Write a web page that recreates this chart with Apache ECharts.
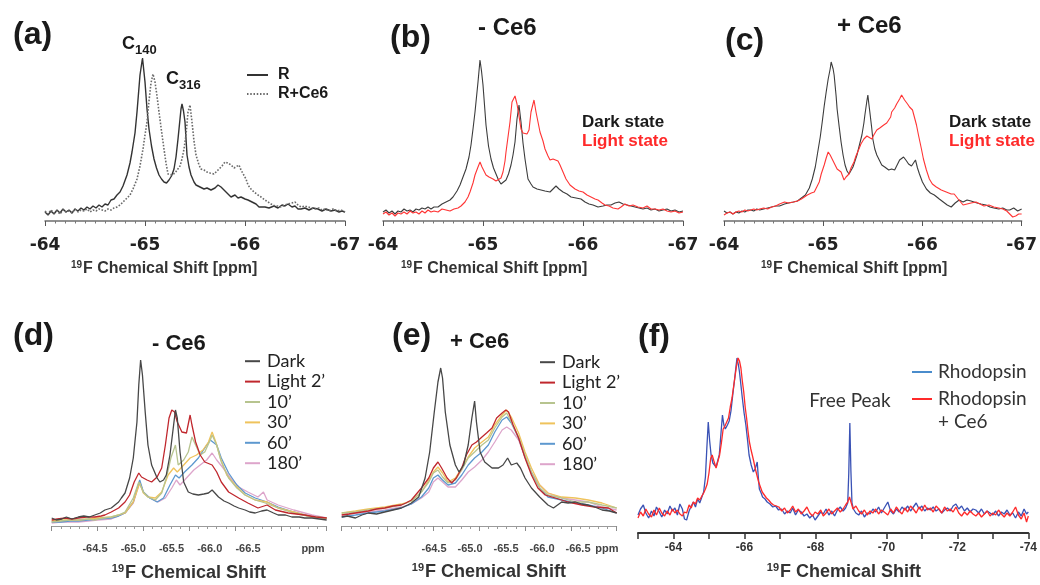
<!DOCTYPE html>
<html>
<head>
<meta charset="utf-8">
<script src="https://cdn.jsdelivr.net/npm/echarts@6/dist/echarts.min.js"></script>
<style>
html,body{margin:0;padding:0;background:#fff}
#chart{width:1040px;height:585px}
</style>
</head>
<body>
<div id="chart"></div>
<script>
// 19F NMR spectra of rhodopsin, [ppm, intensity] pairs (intensity in arbitrary units)

// (a) R vs R+Ce6
const aR = [[-64.00,9],[-64.03,6],[-64.06,10],[-64.09,7],[-64.12,11],[-64.15,8],[-64.18,12],[-64.21,9],[-64.24,11],[-64.27,8],[-64.30,12],[-64.33,10],[-64.36,13],[-64.39,11],[-64.42,14],[-64.45,12],[-64.48,15],[-64.51,13],[-64.54,16],[-64.57,14],[-64.60,17],[-64.63,16],[-64.66,21],[-64.69,22],[-64.72,26],[-64.75,29],[-64.78,35],[-64.82,46],[-64.85,58],[-64.87,69],[-64.90,88],[-64.92,109],[-64.95,146],[-64.975,163],[-65.00,139],[-65.02,112],[-65.04,92],[-65.065,75],[-65.09,62],[-65.115,53],[-65.14,46],[-65.165,42],[-65.19,39],[-65.215,38],[-65.24,41],[-65.265,45],[-65.29,52],[-65.31,64],[-65.33,82],[-65.35,102],[-65.36,112],[-65.37,117],[-65.385,110],[-65.40,99],[-65.42,66],[-65.44,54],[-65.46,46],[-65.49,39],[-65.51,36],[-65.55,34],[-65.59,32],[-65.62,33],[-65.66,31],[-65.70,33],[-65.73,36],[-65.76,34],[-65.78,32],[-65.82,28],[-65.86,24],[-65.90,26],[-65.93,23],[-65.96,24],[-66.00,22],[-66.03,21],[-66.07,19],[-66.11,17],[-66.14,14],[-66.16,12],[-66.20,14],[-66.24,13],[-66.29,15],[-66.33,13],[-66.37,16],[-66.40,15],[-66.43,17],[-66.47,14],[-66.50,15],[-66.53,12],[-66.56,12],[-66.60,13],[-66.64,11],[-66.68,13],[-66.73,12],[-66.77,10],[-66.81,12],[-66.86,10],[-66.90,11],[-66.94,9],[-66.97,10],[-67.00,9]];
const aRCe6 = [[-64.00,10],[-64.03,7],[-64.06,11],[-64.09,8],[-64.12,10],[-64.15,7],[-64.18,11],[-64.21,9],[-64.24,10],[-64.27,8],[-64.30,12],[-64.33,9],[-64.36,11],[-64.39,10],[-64.42,12],[-64.45,9],[-64.48,11],[-64.51,10],[-64.54,12],[-64.57,11],[-64.60,10],[-64.63,12],[-64.66,11],[-64.69,13],[-64.72,14],[-64.75,16],[-64.78,19],[-64.81,22],[-64.85,26],[-64.88,32],[-64.92,42],[-64.95,55],[-64.98,72],[-65.00,86],[-65.02,99],[-65.04,120],[-65.06,138],[-65.08,147],[-65.10,139],[-65.12,125],[-65.14,109],[-65.165,90],[-65.19,72],[-65.21,58],[-65.23,47],[-65.25,45],[-65.27,46],[-65.30,48],[-65.32,49],[-65.35,55],[-65.37,62],[-65.39,72],[-65.41,86],[-65.43,109],[-65.45,116],[-65.47,99],[-65.49,80],[-65.51,66],[-65.54,56],[-65.56,52],[-65.59,51],[-65.62,49],[-65.65,48],[-65.69,47],[-65.72,50],[-65.74,52],[-65.77,55],[-65.80,59],[-65.83,58],[-65.86,56],[-65.89,53],[-65.91,52],[-65.94,56],[-65.96,51],[-65.98,49],[-66.01,42],[-66.03,36],[-66.06,32],[-66.09,29],[-66.13,26],[-66.16,24],[-66.20,21],[-66.23,19],[-66.26,17],[-66.30,15],[-66.33,15],[-66.36,14],[-66.40,16],[-66.43,17],[-66.47,18],[-66.50,19],[-66.53,16],[-66.56,14],[-66.60,15],[-66.63,14],[-66.67,13],[-66.70,12],[-66.74,13],[-66.77,11],[-66.80,12],[-66.84,10],[-66.88,12],[-66.92,10],[-66.96,11],[-67.00,9]];

// (b) without Ce6: dark vs light state
const bDark = [[-64.00,9],[-64.03,11],[-64.06,8],[-64.09,10],[-64.12,7],[-64.15,10],[-64.18,9],[-64.21,12],[-64.24,10],[-64.27,11],[-64.30,9],[-64.33,12],[-64.36,11],[-64.39,13],[-64.42,12],[-64.45,14],[-64.48,12],[-64.51,14],[-64.55,14],[-64.59,17],[-64.63,19],[-64.67,21],[-64.70,24],[-64.74,30],[-64.77,36],[-64.80,44],[-64.83,52],[-64.86,64],[-64.88,76],[-64.90,92],[-64.92,109],[-64.95,139],[-64.97,161],[-64.985,150],[-65.00,136],[-65.03,96],[-65.055,75],[-65.08,62],[-65.105,53],[-65.13,47],[-65.155,41],[-65.18,37],[-65.205,39],[-65.23,41],[-65.255,47],[-65.28,56],[-65.30,66],[-65.32,79],[-65.34,102],[-65.36,116],[-65.38,99],[-65.40,78],[-65.42,62],[-65.45,42],[-65.48,37],[-65.50,34],[-65.54,32],[-65.58,31],[-65.62,30],[-65.67,29],[-65.70,32],[-65.73,35],[-65.76,32],[-65.80,29],[-65.84,27],[-65.88,24],[-65.93,23],[-65.98,22],[-66.02,19],[-66.06,17],[-66.10,16],[-66.15,14],[-66.20,15],[-66.24,16],[-66.28,16],[-66.32,18],[-66.36,19],[-66.40,17],[-66.44,16],[-66.48,15],[-66.52,14],[-66.56,13],[-66.60,12],[-66.64,13],[-66.68,11],[-66.72,12],[-66.76,10],[-66.80,11],[-66.84,12],[-66.88,10],[-66.92,11],[-66.96,9],[-67.00,10]];
const bLight = [[-64.00,7],[-64.03,9],[-64.06,6],[-64.09,8],[-64.12,5],[-64.15,8],[-64.18,7],[-64.21,9],[-64.24,7],[-64.27,10],[-64.30,8],[-64.33,9],[-64.36,7],[-64.39,10],[-64.42,8],[-64.45,11],[-64.48,9],[-64.51,10],[-64.55,9],[-64.59,12],[-64.63,11],[-64.67,10],[-64.71,12],[-64.75,13],[-64.78,15],[-64.82,19],[-64.85,24],[-64.87,29],[-64.90,38],[-64.92,46],[-64.95,54],[-64.97,59],[-64.99,54],[-65.01,50],[-65.03,46],[-65.06,44],[-65.10,42],[-65.13,40],[-65.15,39],[-65.18,43],[-65.20,49],[-65.22,60],[-65.23,69],[-65.25,84],[-65.27,99],[-65.29,119],[-65.32,125],[-65.34,117],[-65.36,105],[-65.38,92],[-65.40,88],[-65.42,86],[-65.44,87],[-65.46,91],[-65.48,109],[-65.51,121],[-65.53,109],[-65.55,99],[-65.57,89],[-65.60,80],[-65.62,72],[-65.65,65],[-65.67,61],[-65.70,62],[-65.72,64],[-65.75,60],[-65.77,56],[-65.80,49],[-65.83,42],[-65.87,36],[-65.92,32],[-65.96,30],[-66.00,29],[-66.04,26],[-66.08,24],[-66.12,22],[-66.15,21],[-66.19,18],[-66.22,16],[-66.26,15],[-66.30,13],[-66.35,12],[-66.38,14],[-66.42,17],[-66.46,15],[-66.50,16],[-66.55,14],[-66.60,13],[-66.64,15],[-66.68,12],[-66.72,12],[-66.76,11],[-66.80,12],[-66.84,10],[-66.88,9],[-66.92,10],[-66.96,8],[-67.00,9]];

// (c) with Ce6: dark vs light state
const cDark = [[-64.00,10],[-64.03,8],[-64.06,9],[-64.09,7],[-64.12,9],[-64.15,8],[-64.18,10],[-64.21,9],[-64.24,11],[-64.27,11],[-64.30,10],[-64.33,12],[-64.36,11],[-64.40,12],[-64.44,13],[-64.48,14],[-64.52,15],[-64.56,15],[-64.61,17],[-64.65,18],[-64.70,19],[-64.74,20],[-64.78,23],[-64.82,26],[-64.86,33],[-64.89,42],[-64.92,54],[-64.94,66],[-64.97,84],[-64.99,99],[-65.01,115],[-65.03,129],[-65.05,142],[-65.07,152],[-65.08,159],[-65.10,152],[-65.11,146],[-65.13,125],[-65.14,112],[-65.16,95],[-65.18,79],[-65.20,66],[-65.22,56],[-65.24,50],[-65.26,47],[-65.28,49],[-65.30,54],[-65.32,60],[-65.34,66],[-65.36,74],[-65.39,86],[-65.41,98],[-65.42,106],[-65.44,120],[-65.45,126],[-65.46,117],[-65.47,109],[-65.49,92],[-65.50,82],[-65.52,72],[-65.54,66],[-65.57,60],[-65.59,56],[-65.62,54],[-65.66,51],[-65.69,52],[-65.72,51],[-65.75,57],[-65.77,61],[-65.81,64],[-65.84,60],[-65.86,57],[-65.89,55],[-65.91,54],[-65.93,61],[-65.95,53],[-65.97,47],[-66.00,39],[-66.04,32],[-66.08,28],[-66.12,26],[-66.17,22],[-66.21,19],[-66.25,16],[-66.29,14],[-66.33,18],[-66.37,21],[-66.41,19],[-66.45,21],[-66.49,20],[-66.51,21],[-66.55,18],[-66.59,17],[-66.64,16],[-66.68,14],[-66.72,13],[-66.77,12],[-66.81,13],[-66.85,11],[-66.88,11],[-66.92,13],[-66.96,10],[-67.00,12]];
const cLight = [[-64.00,6],[-64.03,8],[-64.06,9],[-64.09,7],[-64.12,9],[-64.15,10],[-64.18,9],[-64.21,11],[-64.24,10],[-64.27,11],[-64.30,12],[-64.33,11],[-64.36,12],[-64.40,13],[-64.44,12],[-64.48,14],[-64.52,15],[-64.56,17],[-64.61,19],[-64.65,18],[-64.70,19],[-64.74,20],[-64.78,22],[-64.84,26],[-64.88,28],[-64.91,29],[-64.94,35],[-64.96,39],[-64.98,47],[-65.01,56],[-65.03,63],[-65.05,69],[-65.07,66],[-65.09,62],[-65.12,56],[-65.14,52],[-65.16,50],[-65.18,49],[-65.21,41],[-65.23,44],[-65.26,47],[-65.28,53],[-65.31,59],[-65.33,65],[-65.36,72],[-65.38,77],[-65.41,82],[-65.44,85],[-65.46,87],[-65.49,82],[-65.51,86],[-65.54,91],[-65.57,93],[-65.61,96],[-65.64,98],[-65.66,99],[-65.68,104],[-65.69,109],[-65.72,113],[-65.74,117],[-65.77,122],[-65.79,126],[-65.82,121],[-65.85,117],[-65.87,114],[-65.90,111],[-65.92,109],[-65.94,96],[-65.96,86],[-65.99,72],[-66.01,62],[-66.04,51],[-66.07,42],[-66.10,37],[-66.14,34],[-66.19,31],[-66.24,29],[-66.29,27],[-66.32,27],[-66.36,22],[-66.41,16],[-66.45,17],[-66.49,18],[-66.54,19],[-66.58,17],[-66.62,15],[-66.67,16],[-66.72,14],[-66.77,13],[-66.81,12],[-66.85,10],[-66.88,7],[-66.91,4],[-66.94,5],[-66.97,7],[-67.00,7]];

// (d) without Ce6: time course after illumination
const dDark = [[-64.00,8],[-64.05,6],[-64.11,7],[-64.16,9],[-64.22,7],[-64.29,9],[-64.35,10],[-64.41,9],[-64.47,11],[-64.53,13],[-64.58,16],[-64.65,18],[-64.69,21],[-64.73,24],[-64.76,28],[-64.80,33],[-64.85,48],[-64.89,68],[-64.93,104],[-64.95,141],[-64.97,166],[-64.99,151],[-65.02,114],[-65.05,81],[-65.09,61],[-65.15,48],[-65.18,44],[-65.22,46],[-65.25,51],[-65.29,71],[-65.33,101],[-65.35,116],[-65.37,108],[-65.40,74],[-65.44,44],[-65.49,34],[-65.54,32],[-65.60,31],[-65.66,32],[-65.71,33],[-65.75,36],[-65.78,33],[-65.82,29],[-65.88,25],[-65.93,23],[-65.99,20],[-66.04,18],[-66.11,16],[-66.16,14],[-66.22,13],[-66.29,15],[-66.35,16],[-66.42,13],[-66.47,11],[-66.55,11],[-66.62,9],[-66.70,9],[-66.76,8],[-66.84,8],[-66.92,7],[-67.00,6]];
const dLight2 = [[-64.00,6],[-64.06,7],[-64.15,8],[-64.22,7],[-64.29,8],[-64.38,9],[-64.47,9],[-64.54,10],[-64.58,11],[-64.65,14],[-64.73,18],[-64.80,24],[-64.85,31],[-64.90,44],[-64.95,53],[-64.98,49],[-65.04,46],[-65.09,44],[-65.15,49],[-65.20,58],[-65.24,81],[-65.28,108],[-65.31,116],[-65.34,114],[-65.37,104],[-65.42,94],[-65.47,93],[-65.51,111],[-65.53,101],[-65.57,84],[-65.62,71],[-65.67,64],[-65.75,61],[-65.80,54],[-65.85,44],[-65.93,34],[-66.04,28],[-66.14,23],[-66.25,18],[-66.35,21],[-66.44,16],[-66.58,13],[-66.76,11],[-66.88,9],[-67.00,8]];
const d10 = [[-64.00,4],[-64.10,5],[-64.20,6],[-64.29,6],[-64.40,7],[-64.47,6],[-64.56,8],[-64.65,9],[-64.73,11],[-64.80,14],[-64.89,28],[-64.95,44],[-65.00,34],[-65.05,29],[-65.13,26],[-65.20,33],[-65.25,48],[-65.30,68],[-65.35,81],[-65.38,61],[-65.44,66],[-65.49,74],[-65.53,89],[-65.57,81],[-65.62,71],[-65.67,74],[-65.73,86],[-65.75,91],[-65.80,81],[-65.85,64],[-65.93,48],[-66.02,38],[-66.11,31],[-66.22,26],[-66.33,23],[-66.47,18],[-66.64,13],[-66.84,9],[-67.00,8]];
const d30 = [[-64.00,5],[-64.10,6],[-64.20,6],[-64.29,6],[-64.40,7],[-64.50,8],[-64.65,9],[-64.73,11],[-64.80,13],[-64.89,24],[-64.96,43],[-65.00,33],[-65.05,29],[-65.13,28],[-65.20,34],[-65.27,51],[-65.33,58],[-65.37,54],[-65.44,61],[-65.51,68],[-65.58,71],[-65.65,76],[-65.71,84],[-65.75,94],[-65.79,84],[-65.84,68],[-65.91,51],[-66.00,41],[-66.11,31],[-66.22,26],[-66.35,24],[-66.47,18],[-66.64,14],[-66.84,9],[-67.00,8]];
const d60 = [[-64.00,4],[-64.10,4],[-64.20,5],[-64.29,5],[-64.40,6],[-64.50,7],[-64.65,8],[-64.73,10],[-64.80,13],[-64.89,24],[-64.96,46],[-65.00,34],[-65.07,28],[-65.15,24],[-65.22,28],[-65.29,41],[-65.35,51],[-65.39,48],[-65.45,54],[-65.53,61],[-65.60,68],[-65.67,78],[-65.73,86],[-65.75,88],[-65.80,81],[-65.85,68],[-65.93,53],[-66.02,41],[-66.11,33],[-66.22,28],[-66.35,24],[-66.47,19],[-66.64,14],[-66.84,9],[-67.00,8]];
const d180 = [[-64.00,3],[-64.10,4],[-64.20,4],[-64.29,4],[-64.40,5],[-64.50,6],[-64.65,7],[-64.73,10],[-64.80,13],[-64.89,23],[-64.96,44],[-65.00,34],[-65.07,28],[-65.16,24],[-65.24,28],[-65.31,38],[-65.36,46],[-65.40,41],[-65.47,48],[-65.55,56],[-65.62,61],[-65.69,66],[-65.75,73],[-65.80,66],[-65.87,58],[-65.95,48],[-66.04,39],[-66.14,34],[-66.25,29],[-66.31,34],[-66.35,26],[-66.47,21],[-66.64,16],[-66.84,11],[-67.00,8]];

// (e) with Ce6: time course after illumination
const eDark = [[-64.00,9],[-64.06,10],[-64.15,8],[-64.22,11],[-64.29,13],[-64.38,12],[-64.47,14],[-64.56,16],[-64.65,18],[-64.72,21],[-64.76,23],[-64.84,29],[-64.91,48],[-64.96,74],[-65.01,114],[-65.05,144],[-65.08,158],[-65.10,148],[-65.13,114],[-65.18,81],[-65.24,61],[-65.28,54],[-65.33,61],[-65.38,81],[-65.42,108],[-65.45,125],[-65.47,104],[-65.51,74],[-65.56,64],[-65.64,58],[-65.71,58],[-65.76,61],[-65.81,68],[-65.85,61],[-65.91,63],[-65.95,58],[-66.00,48],[-66.07,38],[-66.16,29],[-66.25,21],[-66.31,18],[-66.40,24],[-66.47,23],[-66.55,24],[-66.62,22],[-66.69,21],[-66.76,19],[-66.84,16],[-66.92,15],[-67.00,13]];
const eLight2 = [[-64.00,11],[-64.08,12],[-64.15,13],[-64.22,14],[-64.29,15],[-64.38,17],[-64.47,18],[-64.56,20],[-64.65,21],[-64.70,23],[-64.76,26],[-64.87,38],[-64.95,48],[-65.00,58],[-65.05,64],[-65.09,58],[-65.15,48],[-65.20,43],[-65.25,48],[-65.31,58],[-65.36,71],[-65.42,81],[-65.47,84],[-65.53,89],[-65.58,93],[-65.64,98],[-65.69,108],[-65.75,113],[-65.79,116],[-65.82,114],[-65.87,101],[-65.93,88],[-66.00,68],[-66.07,51],[-66.14,38],[-66.22,31],[-66.33,28],[-66.47,24],[-66.62,21],[-66.76,19],[-66.91,18],[-67.00,13]];
const e10 = [[-64.00,13],[-64.15,14],[-64.29,16],[-64.47,18],[-64.65,21],[-64.76,25],[-64.87,34],[-64.95,44],[-65.00,53],[-65.05,56],[-65.10,49],[-65.16,43],[-65.24,46],[-65.31,56],[-65.38,68],[-65.45,74],[-65.53,81],[-65.60,86],[-65.67,98],[-65.75,109],[-65.80,113],[-65.85,104],[-65.93,89],[-66.00,71],[-66.07,54],[-66.16,38],[-66.25,31],[-66.40,28],[-66.55,24],[-66.69,24],[-66.84,21],[-67.00,18]];
const e30 = [[-64.00,13],[-64.15,15],[-64.29,17],[-64.47,19],[-64.65,22],[-64.76,25],[-64.87,34],[-64.95,46],[-65.00,54],[-65.05,59],[-65.10,53],[-65.16,44],[-65.24,48],[-65.31,58],[-65.38,69],[-65.45,78],[-65.53,84],[-65.60,89],[-65.67,101],[-65.75,111],[-65.80,116],[-65.85,109],[-65.93,93],[-66.00,74],[-66.07,58],[-66.16,41],[-66.25,33],[-66.40,29],[-66.55,28],[-66.69,26],[-66.84,23],[-67.00,18]];
const e60 = [[-64.00,9],[-64.15,11],[-64.29,13],[-64.47,15],[-64.65,18],[-64.76,22],[-64.87,29],[-64.95,38],[-65.00,48],[-65.05,51],[-65.10,46],[-65.16,41],[-65.24,43],[-65.31,51],[-65.38,61],[-65.45,68],[-65.53,74],[-65.60,81],[-65.67,94],[-65.75,106],[-65.80,109],[-65.85,103],[-65.93,88],[-66.00,69],[-66.07,53],[-66.16,38],[-66.25,29],[-66.40,26],[-66.55,23],[-66.69,21],[-66.84,18],[-67.00,13]];
const e180 = [[-64.00,11],[-64.15,13],[-64.29,14],[-64.47,16],[-64.65,19],[-64.76,22],[-64.87,28],[-64.95,34],[-65.00,44],[-65.05,48],[-65.10,44],[-65.16,39],[-65.24,39],[-65.31,46],[-65.38,54],[-65.45,59],[-65.53,66],[-65.60,74],[-65.67,84],[-65.75,96],[-65.80,99],[-65.85,96],[-65.93,86],[-66.00,69],[-66.07,54],[-66.16,41],[-66.25,33],[-66.40,28],[-66.55,26],[-66.69,24],[-66.84,19],[-67.00,16]];

// (f) full window, rhodopsin with / without Ce6
const fRho = [[-63.00,18],[-63.07,24],[-63.15,28],[-63.22,20],[-63.30,15],[-63.38,22],[-63.45,17],[-63.52,26],[-63.60,21],[-63.67,16],[-63.75,23],[-63.82,19],[-63.90,27],[-63.97,22],[-64.04,25],[-64.11,18],[-64.18,29],[-64.25,24],[-64.31,14],[-64.37,13],[-64.44,22],[-64.50,27],[-64.56,31],[-64.62,26],[-64.68,34],[-64.74,30],[-64.80,36],[-64.85,41],[-64.90,56],[-64.94,85],[-64.98,111],[-65.02,92],[-65.06,78],[-65.11,70],[-65.15,68],[-65.20,66],[-65.24,65],[-65.29,78],[-65.33,96],[-65.38,118],[-65.42,108],[-65.46,104],[-65.52,108],[-65.57,112],[-65.62,122],[-65.67,138],[-65.72,153],[-65.76,166],[-65.79,175],[-65.83,168],[-65.86,161],[-65.90,148],[-65.94,135],[-65.99,120],[-66.04,108],[-66.09,92],[-66.13,78],[-66.19,68],[-66.25,61],[-66.30,64],[-66.36,71],[-66.39,56],[-66.42,44],[-66.47,40],[-66.51,36],[-66.58,34],[-66.64,31],[-66.72,29],[-66.80,26],[-66.88,27],[-66.96,23],[-67.05,24],[-67.13,19],[-67.21,22],[-67.29,20],[-67.36,25],[-67.44,18],[-67.52,23],[-67.60,21],[-67.68,17],[-67.76,19],[-67.84,15],[-67.92,18],[-67.99,13],[-68.07,17],[-68.15,21],[-68.22,19],[-68.30,24],[-68.38,18],[-68.46,22],[-68.54,17],[-68.62,23],[-68.70,26],[-68.78,22],[-68.85,25],[-68.91,30],[-68.94,60],[-68.97,110],[-69.00,62],[-69.03,30],[-69.07,24],[-69.14,20],[-69.22,18],[-69.30,22],[-69.38,16],[-69.46,20],[-69.54,19],[-69.62,24],[-69.70,21],[-69.78,26],[-69.86,20],[-69.94,25],[-70.04,31],[-70.12,22],[-70.20,19],[-70.28,24],[-70.36,21],[-70.44,26],[-70.52,23],[-70.60,27],[-70.68,22],[-70.76,26],[-70.84,30],[-70.92,24],[-71.00,27],[-71.08,22],[-71.16,25],[-71.24,23],[-71.32,26],[-71.40,22],[-71.48,24],[-71.56,20],[-71.64,23],[-71.72,25],[-71.80,22],[-71.88,27],[-71.96,29],[-72.04,24],[-72.12,27],[-72.20,22],[-72.28,25],[-72.36,21],[-72.44,24],[-72.52,23],[-72.60,20],[-72.68,24],[-72.76,19],[-72.84,22],[-72.92,20],[-73.00,18],[-73.08,22],[-73.16,17],[-73.24,21],[-73.32,19],[-73.40,23],[-73.48,18],[-73.56,20],[-73.64,15],[-73.72,21],[-73.80,17],[-73.88,24],[-73.95,19],[-74.00,21]];
const fRhoCe6 = [[-63.00,15],[-63.07,21],[-63.15,17],[-63.22,24],[-63.30,19],[-63.38,16],[-63.45,23],[-63.52,18],[-63.60,25],[-63.67,20],[-63.75,17],[-63.82,22],[-63.90,18],[-63.97,24],[-64.04,20],[-64.11,23],[-64.18,19],[-64.25,17],[-64.31,21],[-64.37,20],[-64.44,28],[-64.50,25],[-64.56,31],[-64.62,29],[-64.68,35],[-64.74,33],[-64.80,37],[-64.85,40],[-64.90,44],[-64.95,49],[-65.00,60],[-65.05,75],[-65.09,78],[-65.14,72],[-65.20,65],[-65.25,67],[-65.30,78],[-65.35,90],[-65.40,104],[-65.45,107],[-65.50,109],[-65.55,115],[-65.60,126],[-65.65,135],[-65.70,148],[-65.74,158],[-65.78,168],[-65.82,175],[-65.86,172],[-65.90,165],[-65.94,152],[-65.98,141],[-66.02,126],[-66.06,115],[-66.10,102],[-66.14,91],[-66.18,84],[-66.22,78],[-66.26,72],[-66.30,65],[-66.35,58],[-66.40,51],[-66.45,46],[-66.50,41],[-66.56,38],[-66.62,35],[-66.68,33],[-66.75,30],[-66.82,28],[-66.90,27],[-66.97,26],[-67.05,22],[-67.13,25],[-67.21,20],[-67.29,23],[-67.36,27],[-67.44,21],[-67.52,24],[-67.60,19],[-67.68,22],[-67.76,26],[-67.84,20],[-67.92,17],[-67.99,21],[-68.07,19],[-68.15,23],[-68.22,17],[-68.30,20],[-68.38,24],[-68.46,19],[-68.54,22],[-68.62,25],[-68.70,21],[-68.78,24],[-68.85,28],[-68.91,31],[-68.96,36],[-69.01,30],[-69.06,24],[-69.14,27],[-69.22,22],[-69.30,19],[-69.38,23],[-69.46,18],[-69.54,22],[-69.62,20],[-69.70,24],[-69.78,19],[-69.86,23],[-69.94,21],[-70.04,18],[-70.12,24],[-70.20,20],[-70.28,26],[-70.36,22],[-70.44,19],[-70.52,25],[-70.60,21],[-70.68,27],[-70.76,24],[-70.84,20],[-70.92,26],[-71.00,22],[-71.08,28],[-71.16,23],[-71.24,25],[-71.32,21],[-71.40,27],[-71.48,24],[-71.56,20],[-71.64,26],[-71.72,22],[-71.80,24],[-71.88,21],[-71.96,26],[-72.04,20],[-72.12,17],[-72.20,21],[-72.28,18],[-72.36,22],[-72.44,19],[-72.52,17],[-72.60,20],[-72.68,16],[-72.76,19],[-72.84,22],[-72.92,17],[-73.00,20],[-73.08,18],[-73.16,23],[-73.24,19],[-73.32,16],[-73.40,20],[-73.48,17],[-73.56,21],[-73.64,26],[-73.72,18],[-73.80,14],[-73.88,20],[-73.95,11],[-74.00,17]];

// series names and axis label values
const timeNames = ['Dark', 'Light 2\u2019', '10\u2019', '30\u2019', '60\u2019', '180\u2019'];
const timeColors = ['#474747', '#c0272d', '#b7c48f', '#efc35c', '#5d98cf', '#dda5cb'];
const deLabelValues = [-64.5, -65.0, -65.5, -66.0, -66.5];
const dUnitPos = -67.35;
const eUnitPos = -66.90;

const FB = "'Liberation Sans', Arial, Helvetica, sans-serif";
const FT = "'DejaVu Sans', 'Liberation Sans', sans-serif";
const FL = "Lato, 'Open Sans', sans-serif";

// grids: a, b, c, d, e, f
const grids = [
  {left: 45, right: 695, top: 51, bottom: 364},
  {left: 383, right: 357, top: 51, bottom: 364},
  {left: 724, right: 16, top: 51, bottom: 364},
  {left: 51.7, right: 713.3, top: 356, bottom: 59},
  {left: 341.7, right: 423.3, top: 356, bottom: 59},
  {left: 638, right: 8, top: 353, bottom: 52}
];

function topAxis(gi) {
  return {
    type: 'value', gridIndex: gi, position: 'bottom', min: -67, max: -64, interval: 1, inverse: true,
    axisLine: {show: true, onZero: false, lineStyle: {color: '#6e6e6e', width: 1.5}},
    axisTick: {show: true, length: 5, lineStyle: {color: '#555', width: 1}},
    minorTick: {show: true, splitNumber: 10, length: 2.5, lineStyle: {color: '#777', width: 1}},
    splitLine: {show: false},
    axisLabel: {margin: 16, fontFamily: FT, fontWeight: 'bold', fontSize: 17, color: '#222'}
  };
}
function tickAxis(gi) {
  return {
    type: 'value', gridIndex: gi, position: 'bottom', min: -67, max: -64, interval: 0.5, inverse: true,
    axisLine: {show: true, onZero: false, lineStyle: {color: '#9a9a9a', width: 1}},
    axisTick: {show: true, length: 5, lineStyle: {color: '#8a8a8a'}},
    minorTick: {show: true, splitNumber: 5, length: 3, lineStyle: {color: '#9a9a9a'}},
    splitLine: {show: false},
    axisLabel: {show: false}
  };
}
function labelAxis(gi, lo, hi, unitPos) {
  return {
    type: 'value', gridIndex: gi, position: 'bottom', min: lo, max: hi, inverse: true,
    axisLine: {show: false, onZero: false}, axisTick: {show: false}, splitLine: {show: false},
    axisLabel: {
      margin: 17, fontFamily: FB, fontWeight: 'bold', fontSize: 11, color: '#444',
      showMinLabel: true, showMaxLabel: true,
      customValues: deLabelValues.concat([unitPos]),
      formatter: v => (deLabelValues.indexOf(v) >= 0 ? v.toFixed(1) : 'ppm')
    }
  };
}

const xAxis = [
  topAxis(0), topAxis(1), topAxis(2),
  tickAxis(3), labelAxis(3, -67.529, -63.934, dUnitPos),
  tickAxis(4), labelAxis(4, -67.0375, -63.218, eUnitPos),
  {
    type: 'value', gridIndex: 5, position: 'bottom', min: -74, max: -63, interval: 1, inverse: true,
    axisLine: {show: true, onZero: false, lineStyle: {color: '#333', width: 2}},
    axisTick: {show: true, length: 6, lineStyle: {color: '#333', width: 1.5}},
    splitLine: {show: false},
    axisLabel: {margin: 9, fontFamily: FB, fontWeight: 'bold', fontSize: 12, color: '#333',
      showMinLabel: true, showMaxLabel: true,
      formatter: v => (Math.round(v) % 2 === 0 ? String(Math.round(v)) : '')}
  }
];
const yMax = [170, 170, 170, 170, 170, 180];
const yAxis = yMax.map((m, i) => ({type: 'value', gridIndex: i, min: 0, max: m, show: false}));

function spec(name, data, xi, yi, color, width, dash) {
  return {
    type: 'line', name, data, xAxisIndex: xi, yAxisIndex: yi,
    showSymbol: false, symbol: 'none', silent: true, animation: false,
    lineStyle: {color, width, type: dash || 'solid'}, itemStyle: {color}
  };
}

const series = [
  spec('R', aR, 0, 0, '#333333', 1.4),
  spec('R+Ce6', aRCe6, 0, 0, '#6a6a6a', 1.6, 'dotted'),
  spec('Dark state', bDark, 1, 1, '#3c3c3c', 1.1),
  spec('Light state', bLight, 1, 1, '#ff3434', 1.1),
  spec('Dark state', cDark, 2, 2, '#3c3c3c', 1.1),
  spec('Light state', cLight, 2, 2, '#ff3434', 1.1)
];
const dSets = [dDark, dLight2, d10, d30, d60, d180];
const eSets = [eDark, eLight2, e10, e30, e60, e180];
for (let i = timeNames.length - 1; i >= 0; i--) {
  series.push(spec(timeNames[i], dSets[i], 3, 3, timeColors[i], 1.3));
  series.push(spec(timeNames[i], eSets[i], 5, 4, timeColors[i], 1.3));
}
series.push(spec('Rhodopsin', fRho, 7, 5, '#3a52b5', 1.3));
series.push(spec('Rhodopsin + Ce6', fRhoCe6, 7, 5, '#ff2a2a', 1.3));

// small text helper for graphic labels
function txt(text, x, y, size, o) {
  o = o || {};
  return {
    type: 'text', x, y, silent: true,
    style: {
      text, fontSize: size, fontFamily: o.family || FB, fontWeight: o.weight || 'bold',
      fill: o.color || '#1a1a1a', align: o.align || 'left', verticalAlign: 'middle'
    }
  };
}
function axisTitle(x, y, size, unit) {
  return [
    txt('19', x - 1, y - 4, Math.round(size * 0.6), {align: 'right', color: '#333'}),
    txt('F Chemical Shift' + (unit ? ' [ppm]' : ''), x, y, size, {color: '#333'})
  ];
}

const graphic = [
  txt('(a)', 13, 35, 32), txt('(b)', 390, 38, 32), txt('(c)', 725, 41, 32),
  txt('- Ce6', 478, 28, 24), txt('+ Ce6', 837, 26, 24),
  txt('C', 122, 44, 18), txt('140', 135, 50, 13),
  txt('C', 166, 79, 18), txt('316', 179, 85, 13),
  txt('Dark state', 582, 122, 17, {color: '#1a1a1a'}),
  txt('Light state', 582, 141, 17, {color: '#ff2a2a'}),
  txt('Dark state', 949, 122, 17, {color: '#1a1a1a'}),
  txt('Light state', 949, 141, 17, {color: '#ff2a2a'}),
  ...axisTitle(83, 269, 16, true), ...axisTitle(413, 269, 16, true), ...axisTitle(773, 269, 16, true),
  txt('(d)', 13, 336, 32), txt('(e)', 392, 336, 32), txt('(f)', 638, 337, 32),
  txt('- Ce6', 152, 344, 22), txt('+ Ce6', 450, 342, 22),
  ...axisTitle(125, 573, 18, false), ...axisTitle(425, 572, 18, false), ...axisTitle(780, 572, 18, false),
  txt('Free Peak', 850, 401, 19, {family: FL, weight: 'normal', color: '#333', align: 'center'}),
  {type: 'line', silent: true, shape: {x1: 912, y1: 372, x2: 932, y2: 372}, style: {stroke: '#4a8ccc', lineWidth: 2}},
  {type: 'line', silent: true, shape: {x1: 912, y1: 399, x2: 932, y2: 399}, style: {stroke: '#ff2a2a', lineWidth: 2}},
  txt('Rhodopsin', 938, 372, 19, {family: FL, weight: 'normal', color: '#333'}),
  txt('Rhodopsin', 938, 399, 19, {family: FL, weight: 'normal', color: '#333'}),
  txt('+ Ce6', 938, 422, 19, {family: FL, weight: 'normal', color: '#333'})
];

const dotIcon = 'path://M0,0h1.6v2h-1.6zM3.5,0h1.6v2h-1.6zM7,0h1.6v2h-1.6zM10.5,0h1.6v2h-1.6zM14,0h1.6v2h-1.6zM17.5,0h1.6v2h-1.6zM21,0h1.6v2h-1.6z';
const legend = [
  {
    orient: 'vertical', left: 247, top: 65.5, padding: 0, itemWidth: 21, itemHeight: 2, itemGap: 0,
    selectedMode: false,
    data: [{name: 'R', icon: 'rect'}, {name: 'R+Ce6', icon: dotIcon}],
    textStyle: {fontFamily: FB, fontWeight: 'bold', fontSize: 16, color: '#1a1a1a', lineHeight: 19, padding: [0, 0, 0, 5]}
  },
  {
    orient: 'vertical', left: 245, top: 351, padding: 0, itemWidth: 15, itemHeight: 2, itemGap: 0, icon: 'rect',
    selectedMode: false, data: timeNames,
    textStyle: {fontFamily: FL, fontSize: 18, color: '#222', lineHeight: 20.4, padding: [0, 0, 0, 2]}
  },
  {
    orient: 'vertical', left: 540, top: 352, padding: 0, itemWidth: 15, itemHeight: 2, itemGap: 0, icon: 'rect',
    selectedMode: false, data: timeNames,
    textStyle: {fontFamily: FL, fontSize: 18, color: '#222', lineHeight: 20.4, padding: [0, 0, 0, 2]}
  }
];

const chart = echarts.init(document.getElementById('chart'), null, {renderer: 'canvas'});
chart.setOption({
  backgroundColor: '#ffffff',
  animation: false,
  grid: grids,
  xAxis,
  yAxis,
  legend,
  series,
  graphic
});
</script>
</body>
</html>
